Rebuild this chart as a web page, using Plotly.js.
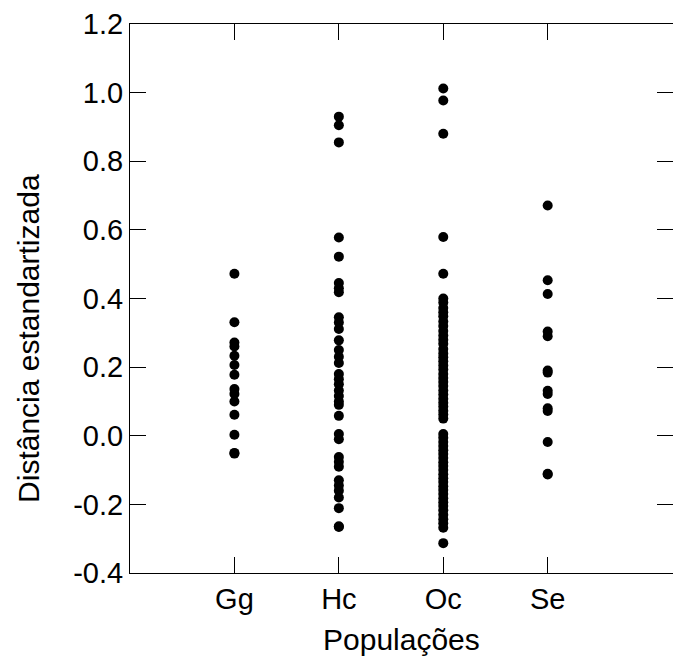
<!DOCTYPE html>
<html>
<head>
<meta charset="utf-8">
<script src="https://cdn.plot.ly/plotly-3.0.1.min.js"></script>
<style>html,body{margin:0;padding:0;background:#fff;}</style>
</head>
<body>
<div id="chart" style="width:673px;height:660px;"></div>
<script>
const categories = ["Gg", "Hc", "Oc", "Se"];
const categoryPositions = [1, 2, 3, 4];

const ggValues = [0.472, 0.331, 0.272, 0.260, 0.233, 0.206, 0.178, 0.136, 0.122, 0.100, 0.061, 0.003, -0.050, -0.052];
const hcValues = [0.930, 0.905, 0.855, 0.578, 0.522, 0.445, 0.430, 0.418, 0.345, 0.330, 0.311, 0.278, 0.250, 0.230, 0.212,
  0.180, 0.165, 0.150, 0.132, 0.116, 0.100, 0.090, 0.058, 0.005, -0.010, -0.062, -0.076, -0.090, -0.130, -0.145, -0.160,
  -0.180, -0.211, -0.264, -0.266];
const ocValues = [1.012, 0.977, 0.880, 0.579, 0.472, 0.400, 0.388, 0.372, 0.360, 0.348, 0.333, 0.320, 0.305, 0.292, 0.280,
  0.268, 0.253, 0.240, 0.229, 0.217, 0.205, 0.193, 0.180, 0.168, 0.157, 0.145, 0.132, 0.120, 0.108, 0.096, 0.085, 0.073,
  0.062, 0.050, 0.005, -0.006, -0.018, -0.030, -0.042, -0.053, -0.065, -0.077, -0.088, -0.100, -0.112, -0.124, -0.135,
  -0.147, -0.158, -0.170, -0.182, -0.194, -0.205, -0.217, -0.230, -0.243, -0.255, -0.268, -0.313];
const seValues = [0.671, 0.453, 0.413, 0.304, 0.290, 0.190, 0.184, 0.131, 0.122, 0.080, 0.072, -0.018, -0.111, -0.113];

const yTickValues = [-0.4, -0.2, 0.0, 0.2, 0.4, 0.6, 0.8, 1.0, 1.2];
const yTickLabels = ["-0.4", "-0.2", "0.0", "0.2", "0.4", "0.6", "0.8", "1.0", "1.2"];

const xTitle = "Populações";
const yTitle = "Distância estandartizada";

const allSeries = [ggValues, hcValues, ocValues, seValues];
const traces = allSeries.map((vals, i) => ({
  type: "scatter",
  mode: "markers",
  x: vals.map(() => categoryPositions[i]),
  y: vals,
  marker: {color: "#000000", size: 10, line: {width: 0}},
  hoverinfo: "y",
  showlegend: false
}));

const fontFamily = "Liberation Sans, Arial, sans-serif";
const layout = {
  width: 673,
  height: 660,
  margin: {l: 130, r: 0, t: 24, b: 87, pad: 0},
  paper_bgcolor: "#ffffff",
  plot_bgcolor: "#ffffff",
  font: {family: fontFamily, color: "#000000", size: 29},
  xaxis: {
    range: [0, 5.2],
    tickmode: "array",
    tickvals: categoryPositions,
    ticktext: categories,
    ticks: "inside",
    ticklen: 16,
    tickwidth: 1,
    tickcolor: "#000000",
    showline: true,
    linecolor: "#000000",
    linewidth: 1,
    mirror: "ticks",
    showgrid: false,
    zeroline: false,
    tickfont: {size: 29, family: fontFamily}
  },
  yaxis: {
    range: [-0.4, 1.2],
    tickmode: "array",
    tickvals: yTickValues,
    ticktext: yTickLabels,
    ticks: "inside",
    ticklen: 16,
    tickwidth: 1,
    tickcolor: "#000000",
    showline: true,
    linecolor: "#000000",
    linewidth: 1,
    mirror: "ticks",
    showgrid: false,
    zeroline: false,
    tickfont: {size: 29, family: fontFamily}
  },
  annotations: [
    {text: xTitle, xref: "paper", yref: "paper", x: 0.5, y: -0.122, xanchor: "center", yanchor: "middle",
     showarrow: false, font: {size: 30, family: fontFamily, color: "#000000"}},
    {text: yTitle, xref: "paper", yref: "paper", x: -0.188, y: 0.428, xanchor: "center", yanchor: "middle",
     textangle: -90, showarrow: false, font: {size: 30, family: fontFamily, color: "#000000"}}
  ]
};

Plotly.newPlot("chart", traces, layout, {displayModeBar: false, staticPlot: true});
</script>
</body>
</html>
